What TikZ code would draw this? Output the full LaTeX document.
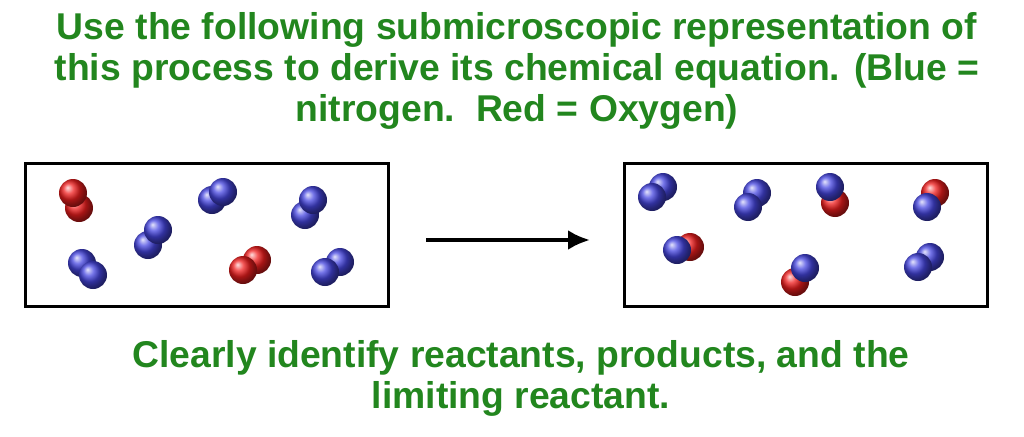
\documentclass[tikz,border=0pt]{standalone}
\usepackage{fontspec}
\setmainfont{Liberation Sans}
\usetikzlibrary{arrows.meta}
\definecolor{tgreen}{RGB}{34,134,30}
\definecolor{nblue}{RGB}{70,70,225}
\definecolor{ored}{RGB}{240,30,30}
\begin{document}
\begin{tikzpicture}[x=1pt,y=-1pt,
  txt/.style={text=tgreen,font=\fontsize{37.3}{41}\selectfont\bfseries,align=center},
  box/.style={draw=black,line width=3pt},
  N/.style={ball color=nblue,draw=none},
  O/.style={ball color=ored,draw=none}]
\useasboundingbox (0,0) rectangle (1024,436);
\node[txt] (title) at (517,71) {Use the following submicroscopic representation of\\this process to derive its chemical equation. (Blue =\\nitrogen.\ \ Red = Oxygen)};
\node[txt] (foot) at (521,378) {Clearly identify reactants, products, and the\\limiting reactant.};
\node[box,minimum width=363pt,minimum height=143pt] (L) at (206.5,234.5) {};
\node[box,minimum width=363pt,minimum height=143pt] (R) at (805.5,234.5) {};
\coordinate (a1) at (426,240); \coordinate (a2) at (590,240);
\draw[line width=4pt,-{Latex[length=22pt,width=20pt]}] (a1) -- (a2);
\def\r{14}
% left
\shade[O] (79,208) circle (\r); \shade[O] (73,193) circle (\r);
\shade[N] (148,245) circle (\r); \shade[N] (158,230) circle (\r);
\shade[N] (212,200) circle (\r); \shade[N] (223,192) circle (\r);
\shade[N] (305,215) circle (\r); \shade[N] (313,200) circle (\r);
\shade[N] (82,263) circle (\r); \shade[N] (93,275) circle (\r);
\shade[O] (257,260) circle (\r); \shade[O] (243,270) circle (\r);
\shade[N] (340,262) circle (\r); \shade[N] (325,272) circle (\r);
% right
\shade[N] (663,187) circle (\r); \shade[N] (652,197) circle (\r);
\shade[N] (757,193) circle (\r); \shade[N] (748,207) circle (\r);
\shade[O] (835,203) circle (\r); \shade[N] (830,187) circle (\r);
\shade[O] (935,193) circle (\r); \shade[N] (927,207) circle (\r);
\shade[O] (690,247) circle (\r); \shade[N] (677,250) circle (\r);
\shade[O] (795,282) circle (\r); \shade[N] (805,268) circle (\r);
\shade[N] (930,257) circle (\r); \shade[N] (918,267) circle (\r);
\end{tikzpicture}
\end{document}
